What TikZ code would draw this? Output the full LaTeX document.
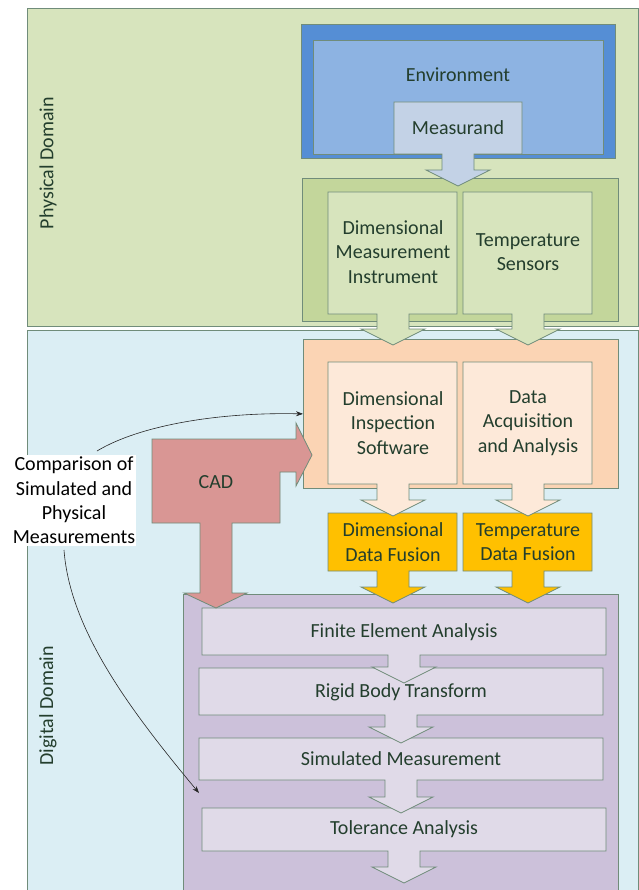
\documentclass[tikz,border=0pt]{standalone}
\usepackage{fontspec}
\setmainfont{Carlito}
\usetikzlibrary{arrows.meta}
\definecolor{bord}{RGB}{112,140,122}
\definecolor{txtc}{RGB}{35,62,45}
\definecolor{physF}{HTML}{D7E4BD}
\definecolor{digF}{HTML}{DBEEF4}
\definecolor{envO}{HTML}{558ED5}
\definecolor{envI}{HTML}{8DB3E2}
\definecolor{measF}{HTML}{C3D2E6}
\definecolor{grnO}{HTML}{C3D69B}
\definecolor{grnI}{HTML}{D7E4BD}
\definecolor{orO}{HTML}{FBD4B4}
\definecolor{orI}{HTML}{FDE9D9}
\definecolor{yelF}{HTML}{FFC000}
\definecolor{purO}{HTML}{CCC1DA}
\definecolor{purI}{HTML}{E0DAE8}
\definecolor{cadF}{HTML}{D99694}
\tikzset{
  shp/.style={draw=bord, line width=0.8pt, line join=miter},
  boxn/.style={shp, anchor=north west, inner sep=0pt},
  lbl/.style={text=txtc, font=\fontsize{20}{24.4}\selectfont, align=center, inner sep=0pt},
  conn/.style={draw=black!85, line width=0.6pt, -{Stealth[length=7pt,width=5pt]}}
}
% down callout: #1 fill, #2 L, #3 T, #4 R, #5 B, #6 cx, #7 head y
\newcommand{\dcall}[7]{%
  \path[shp, fill=#1] (#2,#3) -- (#4,#3) -- (#4,#5) -- ({#6+16},#5) -- ({#6+16},#7) -- ({#6+32},#7) -- (#6,{#7+16}) -- ({#6-32},#7) -- ({#6-16},#7) -- ({#6-16},#5) -- (#2,#5) -- cycle;}
\begin{document}
\begin{tikzpicture}[x=1pt, y=-1pt]
\useasboundingbox (0,0) rectangle (638,890);
% domains
\node[boxn, fill=physF, minimum width=611pt, minimum height=318pt] (physdom) at (27,8) {};
\node[boxn, fill=digF, minimum width=611pt, minimum height=570pt] (digdom) at (27,330) {};
\node[lbl, rotate=90] (physlbl) at (48,163) {Physical Domain};
\node[lbl, rotate=90] (diglbl) at (48,706) {Digital Domain};
% purple block
\node[boxn, fill=purO, minimum width=435pt, minimum height=310pt] (purbox) at (183,594) {};
\dcall{purI}{202}{808}{606}{851}{404}{867}
\node[lbl] (ta) at (404,829) {Tolerance Analysis};
\dcall{purI}{199}{738}{603}{780}{401}{797}
\node[lbl] (sm) at (401,759) {Simulated Measurement};
\dcall{purI}{199}{668}{603}{715}{401}{727}
\node[lbl] (rbt) at (401,692) {Rigid Body Transform};
\dcall{purI}{202}{608}{606}{655}{404}{667}
\node[lbl] (fea) at (404,632) {Finite Element Analysis};
% yellow fusion
\dcall{yelF}{328}{513}{457}{571}{393}{587}
\node[lbl] (ddf) at (393,542) {Dimensional\\Data Fusion};
\dcall{yelF}{463}{513}{592}{571}{528}{587}
\node[lbl] (tdf) at (528,542) {Temperature\\Data Fusion};
% orange block
\node[boxn, fill=orO, minimum width=315pt, minimum height=149pt] (orbox) at (303,339) {};
\dcall{orI}{328}{362}{457}{484}{393}{500}
\node[lbl] (dis) at (393,423) {Dimensional\\Inspection\\Software};
\dcall{orI}{463}{362}{592}{484}{528}{500}
\node[lbl] (daa) at (528,423) {Data\\Acquisition\\and Analysis};
% CAD
\path[shp, fill=cadF] (152,439) -- (296,439) -- (296,423) -- (312,455) -- (296,486) -- (296,472) -- (280,472) -- (280,523) -- (232,523) -- (232,593) -- (247,593) -- (216,608) -- (184,593) -- (200,593) -- (200,523) -- (152,523) -- cycle;
\node[lbl] (cad) at (216,482) {CAD};
% green block
\node[boxn, fill=grnO, minimum width=316pt, minimum height=143pt] (grnbox) at (302,178) {};
\dcall{grnI}{328}{192}{457}{314}{393}{329}
\node[lbl] (dmi) at (393,252) {Dimensional\\Measurement\\Instrument};
\dcall{grnI}{463}{192}{592}{314}{528}{329}
\node[lbl] (ts) at (528,252) {Temperature\\Sensors};
% environment
\node[boxn, fill=envO, minimum width=314pt, minimum height=134pt] (envout) at (301,24) {};
\node[boxn, fill=envI, minimum width=290pt, minimum height=114pt] (envin) at (313,40) {};
\node[lbl] (env) at (458,75) {Environment};
\dcall{measF}{394}{102}{522}{154}{458}{170}
\node[lbl] (meas) at (458,128) {Measurand};
% comparison label and connectors
\node[lbl, text=black, fill=white, inner xsep=1pt, inner ysep=2pt] (cmp) at (74,500.5) {Comparison of\\Simulated and\\Physical\\Measurements};
\coordinate (cmpa) at (97,451);
\coordinate (cmpb) at (64,550);
\coordinate (purtgt) at (199,793);
\draw[conn] (cmpa) .. controls (140,425) and (220,412) .. (orbox.west);
\draw[conn] (cmpb) .. controls (70,630) and (130,710) .. (purtgt);
\end{tikzpicture}
\end{document}
